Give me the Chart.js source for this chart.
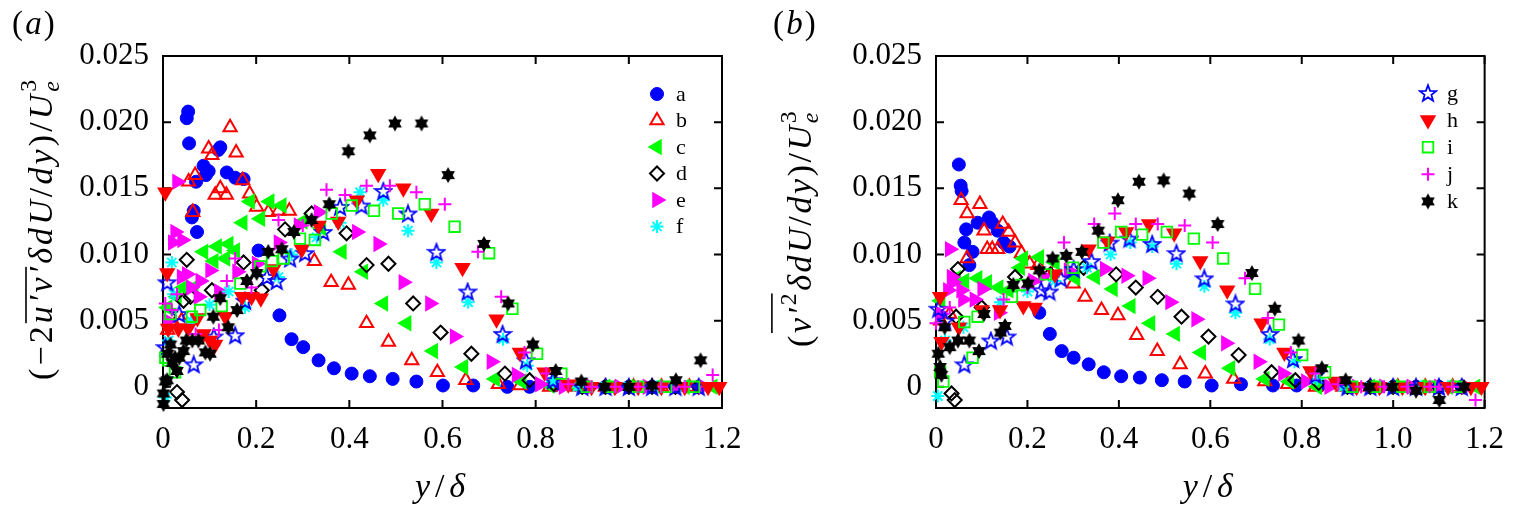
<!DOCTYPE html>
<html>
<head>
<meta charset="utf-8">
<script src="https://cdn.jsdelivr.net/npm/chart.js@4.4.1/dist/chart.umd.min.js"></script>
<style>
  html, body { margin: 0; padding: 0; background: #fff; overflow: hidden; }
  #wrap { position: relative; width: 1517px; height: 509px; }
  canvas { position: absolute; top: 0; }
  #cA { left: 0; }
  #cB { left: 760px; }
</style>
</head>
<body>
<div id="wrap">
  <canvas id="cA" width="760" height="509"></canvas>
  <canvas id="cB" width="757" height="509"></canvas>
</div>
<script>
// ---- axes ----
const xTicks = [0, 0.2, 0.4, 0.6, 0.8, 1.0, 1.2];
const xTickLabels = ['0', '0.2', '0.4', '0.6', '0.8', '1.0', '1.2'];
const yTicks = [0, 0.005, 0.010, 0.015, 0.020, 0.025];
const yTickLabels = ['0', '0.005', '0.010', '0.015', '0.020', '0.025'];
const seriesNames = ['a', 'b', 'c', 'd', 'e', 'f', 'g', 'h', 'i', 'j', 'k'];

// ---- panel (a): (-2 u'v' delta dU/dy)/Ue^3 vs y/delta ----
const ptsA_a = [[0.054,0.0208],[0.051,0.0203],[0.056,0.0184],[0.071,0.0155],[0.062,0.0128],[0.066,0.0133],[0.073,0.0117],[0.087,0.0167],[0.098,0.0163],[0.092,0.0160],[0.119,0.0179],[0.123,0.0181],[0.137,0.0162],[0.155,0.0158],[0.173,0.0157],[0.205,0.0103],[0.250,0.0054],[0.276,0.0036],[0.301,0.0030],[0.334,0.0020],[0.367,0.0014],[0.405,0.0010],[0.444,0.0008],[0.493,0.0006],[0.544,0.0004],[0.601,0.0001],[0.666,0.0001],[0.739,0],[0.787,0],[0.840,0.0001],[0.90,0],[0.95,0],[1.00,0],[1.05,0],[1.10,0],[1.15,0]];
const ptsA_b = [[0.010,0.0043],[0.025,0.0047],[0.040,0.0050],[0.055,0.0155],[0.064,0.0132],[0.069,0.0160],[0.098,0.0180],[0.105,0.0175],[0.112,0.0145],[0.123,0.0150],[0.136,0.0145],[0.144,0.0196],[0.157,0.0177],[0.171,0.0156],[0.186,0.0146],[0.201,0.0136],[0.226,0.0132],[0.248,0.0133],[0.271,0.0133],[0.325,0.0095],[0.361,0.0079],[0.398,0.0077],[0.437,0.0048],[0.484,0.0034],[0.534,0.0020],[0.589,0.0011],[0.650,0.0005],[0.720,0.0002],[0.766,0.0001],[0.83,0],[0.89,0],[0.95,0],[1.01,0],[1.07,0],[1.13,0]];
const ptsA_c = [[0.010,0.0060],[0.030,0.0068],[0.044,0.0075],[0.066,0.0075],[0.087,0.0102],[0.109,0.0095],[0.116,0.0106],[0.134,0.0097],[0.141,0.0108],[0.155,0.0103],[0.171,0.0124],[0.187,0.0140],[0.209,0.0127],[0.229,0.0140],[0.255,0.0137],[0.300,0.0125],[0.340,0.0120],[0.384,0.0102],[0.430,0.0087],[0.473,0.0063],[0.523,0.0048],[0.580,0.0027],[0.645,0.0015],[0.713,0.0006],[0.770,0.0004],[0.83,0.0001],[0.89,0],[0.95,0],[1.00,0],[1.06,0],[1.12,0],[1.18,0]];
const ptsA_d = [[0.030,-0.0004],[0.041,-0.0010],[0.044,0.0065],[0.051,0.0096],[0.059,0.0068],[0.105,0.0073],[0.173,0.0094],[0.212,0.0073],[0.262,0.0119],[0.319,0.0131],[0.394,0.0116],[0.437,0.0092],[0.484,0.0093],[0.537,0.0063],[0.596,0.0041],[0.662,0.0025],[0.734,0.0010],[0.787,0.0005],[0.839,0.0002],[0.90,0],[0.95,0],[1.00,0],[1.05,0],[1.10,0],[1.15,0]];
const ptsA_e = [[0.010,0.0050],[0.021,0.0109],[0.026,0.0117],[0.030,0.0155],[0.041,0.0111],[0.040,0.0083],[0.051,0.0085],[0.060,0.0075],[0.076,0.0068],[0.080,0.0080],[0.101,0.0088],[0.120,0.0072],[0.159,0.0087],[0.201,0.0093],[0.248,0.0109],[0.291,0.0122],[0.334,0.0132],[0.416,0.0117],[0.462,0.0108],[0.516,0.0079],[0.573,0.0063],[0.626,0.0038],[0.705,0.0019],[0.759,0.0009],[0.809,0.0002],[0.86,0],[0.92,0],[0.98,0],[1.04,0],[1.10,0],[1.16,0]];
const ptsA_f = [[0.005,-0.0008],[0.012,0.0035],[0.019,0.0094],[0.023,0.0070],[0.060,0.0050],[0.100,0.0062],[0.141,0.0072],[0.176,0.0060],[0.248,0.0083],[0.276,0.0100],[0.330,0.0113],[0.380,0.0124],[0.423,0.0147],[0.473,0.0141],[0.526,0.0118],[0.587,0.0094],[0.655,0.0064],[0.730,0.0036],[0.782,0.0016],[0.837,0.0004],[0.89,0],[0.95,0],[1.00,0],[1.06,0],[1.12,0]];
const ptsA_g = [[0.005,0.0030],[0.009,0.0079],[0.035,0.0055],[0.066,0.0017],[0.109,0.0038],[0.155,0.0039],[0.176,0.0065],[0.223,0.0083],[0.244,0.0080],[0.273,0.0097],[0.305,0.0101],[0.344,0.0117],[0.380,0.0136],[0.426,0.0137],[0.473,0.0148],[0.526,0.0131],[0.587,0.0102],[0.654,0.0072],[0.729,0.0040],[0.779,0.0020],[0.837,0.0005],[0.90,0],[0.95,0],[1.00,0],[1.05,0],[1.10,0],[1.15,0]];
const ptsA_h = [[0.005,0.0147],[0.009,0.0086],[0.011,0.0044],[0.033,0.0044],[0.054,0.0044],[0.074,0.0052],[0.087,0.0040],[0.101,0.0035],[0.112,0.0032],[0.134,0.0053],[0.170,0.0068],[0.190,0.0068],[0.210,0.0067],[0.237,0.0089],[0.298,0.0104],[0.334,0.0122],[0.376,0.0125],[0.416,0.0141],[0.462,0.0161],[0.516,0.0150],[0.576,0.0131],[0.643,0.0090],[0.716,0.0051],[0.766,0.0026],[0.819,0.0011],[0.87,0.0002],[0.92,0],[0.97,0],[1.02,0],[1.07,0],[1.12,0],[1.17,0],[1.194,0]];
const ptsA_i = [[0.005,0.0022],[0.011,0.0020],[0.016,0.0055],[0.026,0.0011],[0.062,0.0053],[0.080,0.0058],[0.126,0.0061],[0.166,0.0078],[0.209,0.0091],[0.234,0.0095],[0.259,0.0097],[0.294,0.0112],[0.326,0.0111],[0.362,0.0131],[0.405,0.0137],[0.453,0.0133],[0.505,0.0131],[0.562,0.0138],[0.626,0.0121],[0.700,0.0101],[0.750,0.0059],[0.803,0.0025],[0.855,0.0010],[0.91,0],[0.96,0],[1.02,0],[1.08,0],[1.14,0]];
const ptsA_j = [[0.005,0.0063],[0.019,0.0058],[0.030,0.0070],[0.070,0.0040],[0.120,0.0043],[0.137,0.0080],[0.155,0.0097],[0.190,0.0075],[0.248,0.0126],[0.300,0.0122],[0.351,0.0149],[0.391,0.0145],[0.437,0.0152],[0.487,0.0152],[0.544,0.0147],[0.605,0.0138],[0.676,0.0102],[0.726,0.0068],[0.776,0.0026],[0.823,0.0010],[0.87,0.0002],[0.92,0],[0.97,0],[1.02,0],[1.07,0],[1.12,0],[1.18,0.0009]];
const ptsA_k = [[0.001,-0.0013],[0.001,-0.0005],[0.005,0.0004],[0.009,0.0005],[0.010,0.0025],[0.016,0.0032],[0.020,0.0018],[0.026,0.0022],[0.030,0.0012],[0.035,0.0022],[0.044,0.0027],[0.050,0.0035],[0.063,0.0035],[0.076,0.0035],[0.091,0.0026],[0.101,0.0025],[0.108,0.0053],[0.123,0.0067],[0.140,0.0045],[0.159,0.0058],[0.180,0.0080],[0.201,0.0086],[0.226,0.0102],[0.255,0.0104],[0.281,0.0117],[0.319,0.0126],[0.357,0.0138],[0.398,0.0178],[0.444,0.0190],[0.498,0.0199],[0.555,0.0199],[0.612,0.0160],[0.689,0.0108],[0.741,0.0063],[0.794,0.0032],[0.843,0.0012],[0.898,0.0004],[0.948,0],[1.00,0],[1.05,0.0001],[1.101,0.0005],[1.154,0.0020]];

// ---- panel (b): (v'^2 delta dU/dy)/Ue^3 vs y/delta ----
const ptsB_a = [[0.050,0.0168],[0.054,0.0152],[0.056,0.0148],[0.062,0.0109],[0.066,0.0119],[0.073,0.0092],[0.080,0.0102],[0.091,0.0124],[0.116,0.0128],[0.123,0.0124],[0.135,0.0118],[0.148,0.0109],[0.161,0.0106],[0.226,0.0056],[0.249,0.0040],[0.275,0.0027],[0.301,0.0022],[0.334,0.0017],[0.367,0.0011],[0.405,0.0008],[0.446,0.0007],[0.494,0.0005],[0.544,0.0004],[0.603,0.0001],[0.667,0.0002],[0.737,0.0001],[0.789,0.0001],[0.839,0.0001],[0.90,0],[0.95,0],[1.00,0],[1.05,0],[1.10,0],[1.15,0]];
const ptsB_b = [[0.010,0.0050],[0.030,0.0055],[0.055,0.0141],[0.068,0.0131],[0.068,0.0097],[0.096,0.0138],[0.105,0.0118],[0.112,0.0104],[0.123,0.0104],[0.135,0.0104],[0.146,0.0123],[0.159,0.0117],[0.173,0.0109],[0.187,0.0101],[0.205,0.0093],[0.223,0.0092],[0.260,0.0088],[0.300,0.0078],[0.326,0.0068],[0.362,0.0058],[0.398,0.0054],[0.439,0.0039],[0.484,0.0027],[0.534,0.0017],[0.589,0.0010],[0.651,0.0006],[0.719,0.0004],[0.769,0.0002],[0.83,0],[0.89,0],[0.95,0],[1.01,0],[1.07,0],[1.13,0]];
const ptsB_c = [[0.010,0.0065],[0.044,0.0082],[0.062,0.0080],[0.091,0.0082],[0.112,0.0079],[0.137,0.0075],[0.159,0.0073],[0.184,0.0090],[0.191,0.0097],[0.226,0.0098],[0.260,0.0094],[0.305,0.0082],[0.348,0.0083],[0.387,0.0074],[0.426,0.0061],[0.469,0.0048],[0.523,0.0040],[0.580,0.0026],[0.644,0.0014],[0.719,0.0006],[0.773,0.0004],[0.834,0],[0.89,0],[0.95,0],[1.00,0],[1.06,0],[1.12,0],[1.18,0]];
const ptsB_d = [[0.034,-0.0005],[0.041,-0.0010],[0.044,0.0053],[0.048,0.0089],[0.100,0.0060],[0.173,0.0083],[0.250,0.0085],[0.323,0.0090],[0.394,0.0085],[0.437,0.0075],[0.485,0.0068],[0.537,0.0053],[0.596,0.0038],[0.662,0.0024],[0.734,0.0011],[0.786,0.0005],[0.837,0.0003],[0.90,0],[0.95,0],[1.00,0],[1.05,0],[1.10,0],[1.15,0]];
const ptsB_e = [[0.010,0.0055],[0.026,0.0073],[0.030,0.0104],[0.034,0.0083],[0.037,0.0079],[0.055,0.0073],[0.059,0.0066],[0.084,0.0066],[0.101,0.0074],[0.137,0.0056],[0.212,0.0080],[0.234,0.0084],[0.290,0.0088],[0.369,0.0089],[0.416,0.0084],[0.462,0.0082],[0.512,0.0064],[0.569,0.0051],[0.634,0.0033],[0.705,0.0019],[0.759,0.0010],[0.809,0.0004],[0.86,0],[0.92,0],[0.98,0],[1.04,0],[1.10,0],[1.16,0]];
const ptsB_f = [[0.004,-0.0007],[0.020,0.0035],[0.060,0.0045],[0.141,0.0064],[0.200,0.0072],[0.260,0.0080],[0.330,0.0090],[0.382,0.0100],[0.425,0.0109],[0.473,0.0106],[0.526,0.0093],[0.587,0.0076],[0.655,0.0056],[0.730,0.0036],[0.784,0.0019],[0.834,0.0006],[0.89,0],[0.95,0],[1.00,0],[1.06,0],[1.12,0]];
const ptsB_g = [[0.005,0.0059],[0.020,0.0050],[0.062,0.0017],[0.120,0.0035],[0.155,0.0038],[0.230,0.0073],[0.248,0.0072],[0.273,0.0082],[0.301,0.0089],[0.340,0.0095],[0.380,0.0109],[0.423,0.0112],[0.473,0.0108],[0.526,0.0101],[0.587,0.0082],[0.655,0.0063],[0.730,0.0040],[0.781,0.0021],[0.830,0.0009],[0.90,0],[0.95,0],[1.00,0],[1.05,0],[1.10,0],[1.15,0]];
const ptsB_h = [[0.009,0.0068],[0.012,0.0034],[0.050,0.0045],[0.100,0.0058],[0.140,0.0058],[0.191,0.0061],[0.216,0.0060],[0.260,0.0085],[0.334,0.0104],[0.375,0.0110],[0.416,0.0117],[0.466,0.0123],[0.521,0.0116],[0.578,0.0095],[0.637,0.0073],[0.712,0.0048],[0.762,0.0026],[0.819,0.0012],[0.873,0.0004],[0.92,0],[0.97,0],[1.02,0],[1.07,0],[1.12,0],[1.17,0],[1.193,0]];
const ptsB_i = [[0.009,0.0011],[0.016,0.0004],[0.062,0.0049],[0.080,0.0022],[0.091,0.0053],[0.166,0.0068],[0.187,0.0077],[0.240,0.0085],[0.300,0.0090],[0.366,0.0109],[0.405,0.0117],[0.451,0.0115],[0.505,0.0117],[0.564,0.0112],[0.628,0.0097],[0.698,0.0074],[0.750,0.0047],[0.801,0.0024],[0.851,0.0011],[0.91,0],[0.96,0],[1.02,0],[1.08,0],[1.14,0]];
const ptsB_j = [[0.000,0.0048],[0.030,0.0060],[0.148,0.0066],[0.200,0.0075],[0.280,0.0109],[0.346,0.0123],[0.391,0.0131],[0.437,0.0123],[0.485,0.0123],[0.544,0.0122],[0.605,0.0109],[0.676,0.0082],[0.726,0.0052],[0.776,0.0026],[0.830,0.0010],[0.88,0.0002],[0.93,0],[0.98,0],[1.03,0],[1.08,0],[1.13,0],[1.18,-0.0010]];
const ptsB_k = [[0.005,0.0025],[0.009,0.0015],[0.012,0.0009],[0.019,0.0045],[0.030,0.0030],[0.048,0.0035],[0.073,0.0035],[0.094,0.0027],[0.105,0.0055],[0.141,0.0041],[0.151,0.0046],[0.169,0.0077],[0.201,0.0078],[0.226,0.0088],[0.255,0.0097],[0.285,0.0099],[0.319,0.0102],[0.355,0.0118],[0.398,0.0141],[0.444,0.0155],[0.498,0.0156],[0.554,0.0146],[0.616,0.0123],[0.691,0.0086],[0.741,0.0059],[0.793,0.0035],[0.844,0.0014],[0.896,0.0005],[0.948,0],[0.998,0],[1.05,-0.0003],[1.101,-0.0010],[1.155,0]];

const SERIF = "'Liberation Serif', 'Times New Roman', 'DejaVu Serif', serif";

// marker images for the two star types Chart.js has no style for
function openStar(color) {
  const c = document.createElement('canvas');
  c.width = 20; c.height = 20;
  const g = c.getContext('2d');
  g.beginPath();
  for (let i = 0; i < 10; i++) {
    const r = i % 2 ? 3.6 : 8.6;
    const a = -Math.PI / 2 + i * Math.PI / 5;
    const px = 10 + r * Math.cos(a), py = 10.8 + r * Math.sin(a);
    if (i) g.lineTo(px, py); else g.moveTo(px, py);
  }
  g.closePath();
  g.strokeStyle = color; g.lineWidth = 1.8;
  g.stroke();
  return c;
}
function hexStar(color) {
  const c = document.createElement('canvas');
  c.width = 18; c.height = 18;
  const g = c.getContext('2d');
  g.fillStyle = color;
  [0, Math.PI].forEach(off => {
    g.beginPath();
    for (let i = 0; i < 3; i++) {
      const a = -Math.PI / 2 + off + i * 2 * Math.PI / 3;
      const px = 9 + 7.9 * Math.cos(a), py = 9 + 7.9 * Math.sin(a);
      if (i) g.lineTo(px, py); else g.moveTo(px, py);
    }
    g.closePath();
    g.fill();
  });
  return c;
}

const NONE = 'rgba(0,0,0,0)';
const styles = [
  { ps: 'circle',   rot: 0,   r: 6.5, fill: '#0000ff', stroke: '#0000ff', bw: 1 },
  { ps: 'triangle', rot: 0,   r: 7.6, fill: NONE,      stroke: '#ff0000', bw: 2 },
  { ps: 'triangle', rot: 270, r: 9.5, fill: '#00ff00', stroke: '#00ff00', bw: 0 },
  { ps: 'rectRot',  rot: 0,   r: 7,   fill: NONE,      stroke: '#000000', bw: 2 },
  { ps: 'triangle', rot: 90,  r: 9.5, fill: '#ff00ff', stroke: '#ff00ff', bw: 0 },
  { ps: 'star',     rot: 0,   r: 6.5, fill: NONE,      stroke: '#00ffff', bw: 2 },
  { ps: openStar('#0000ff'), rot: 0, r: 8, fill: NONE, stroke: '#0000ff', bw: 0 },
  { ps: 'triangle', rot: 180, r: 9.5, fill: '#ff0000', stroke: '#ff0000', bw: 0 },
  { ps: 'rect',     rot: 0,   r: 7.5, fill: NONE,      stroke: '#00ff00', bw: 1.8 },
  { ps: 'cross',    rot: 0,   r: 6.5, fill: NONE,      stroke: '#ff00ff', bw: 2 },
  { ps: hexStar('#000000'), rot: 0, r: 8, fill: NONE, stroke: '#000000', bw: 0 }
];

function buildDatasets(series) {
  return series.map((pts, i) => {
    const s = styles[i];
    return {
      label: seriesNames[i],
      data: pts.map(p => ({ x: p[0], y: p[1] })),
      pointStyle: s.ps,
      pointRotation: s.rot,
      pointRadius: s.r,
      pointHoverRadius: s.r,
      pointBorderWidth: s.bw,
      pointBackgroundColor: s.fill,
      pointBorderColor: s.stroke,
      showLine: false,
      clip: false,
      order: series.length - i   // later series on top, as in the figure
    };
  });
}

// text made of upright / italic / sub / superscript pieces, centred on u = 0
function drawRuns(ctx, runs, size, target, olY) {
  const fontOf = r => (r.it ? 'italic ' : '') + (size * (r.sc || 1)).toFixed(1) + 'px ' + SERIF;
  let natural = 0, nch = 0;
  runs.forEach(r => {
    if (r.back) return;
    ctx.font = fontOf(r);
    natural += ctx.measureText(r.t).width;
    nch += r.t.length;
  });
  const gap = (target - natural) / nch;
  let u = -target / 2, prevStart = u, ol0 = null, ol1 = null;
  runs.forEach(r => {
    ctx.font = fontOf(r);
    const start = r.back ? prevStart : u;
    let cu = start;
    for (const ch of r.t) {
      ctx.fillText(ch, cu, (r.dy || 0) * size);
      cu += ctx.measureText(ch).width + (r.back ? 0 : gap);
    }
    if (r.ol) { if (ol0 === null) ol0 = start; ol1 = cu - gap; }
    if (!r.back) { prevStart = start; u = cu; }
  });
  if (ol0 !== null) ctx.fillRect(ol0, olY * size - 0.8, ol1 - ol0, 1.6);
}

const titleA = [
  { t: '(−2' }, { t: 'u′v′', it: true, ol: true }, { t: 'δdU', it: true }, { t: '/' },
  { t: 'dy', it: true }, { t: ')/' }, { t: 'U', it: true },
  { t: 'e', it: true, sc: 0.7, dy: 0.22 }, { t: '3', sc: 0.7, dy: -0.45, back: true }
];
const titleB = [
  { t: '(' }, { t: 'v′', it: true, ol: true }, { t: '2', sc: 0.7, dy: -0.45, ol: true },
  { t: 'δdU', it: true }, { t: '/' }, { t: 'dy', it: true }, { t: ')/' }, { t: 'U', it: true },
  { t: 'e', it: true, sc: 0.7, dy: 0.22 }, { t: '3', sc: 0.7, dy: -0.45, back: true }
];
const xTitle = [{ t: 'y', it: true }, { t: '/' }, { t: 'δ', it: true }];

function makeDeco(cfg) {
  return {
    id: 'deco' + cfg.tag,
    beforeDatasetsDraw(chart) {
      const { ctx, chartArea: a, scales: { x, y } } = chart;
      ctx.save();
      ctx.strokeStyle = '#000';
      ctx.lineWidth = 2;
      ctx.strokeRect(a.left, a.top, a.right - a.left, a.bottom - a.top);
      ctx.beginPath();
      x.ticks.forEach(t => {
        const px = x.getPixelForValue(t.value);
        ctx.moveTo(px, a.bottom); ctx.lineTo(px, a.bottom - 8);
        ctx.moveTo(px, a.top); ctx.lineTo(px, a.top + 8);
      });
      y.ticks.forEach(t => {
        const py = y.getPixelForValue(t.value);
        ctx.moveTo(a.left, py); ctx.lineTo(a.left + 8, py);
        ctx.moveTo(a.right, py); ctx.lineTo(a.right - 8, py);
      });
      ctx.stroke();
      ctx.restore();
    },
    afterDraw(chart) {
      const { ctx, chartArea: a } = chart;
      ctx.save();
      ctx.fillStyle = '#000';
      ctx.textAlign = 'left';
      ctx.textBaseline = 'alphabetic';

      // legend
      cfg.legend.forEach((idx, n) => {
        const s = styles[idx];
        const ly = cfg.legY0 + n * cfg.legDy;
        ctx.save();
        ctx.fillStyle = s.fill;
        ctx.strokeStyle = s.stroke;
        ctx.lineWidth = s.bw;
        Chart.helpers.drawPoint(ctx, { pointStyle: s.ps, rotation: s.rot, radius: s.r, borderWidth: s.bw }, cfg.legX, ly);
        ctx.restore();
        ctx.fillStyle = '#000';
        ctx.font = '22px ' + SERIF;
        ctx.fillText(seriesNames[idx], cfg.legLabelX, ly + 6.5);
      });

      // y title, rotated
      ctx.save();
      ctx.translate(cfg.yTitleX, cfg.yTitleCy);
      ctx.rotate(-Math.PI / 2);
      drawRuns(ctx, cfg.yTitle, 34, cfg.yTitleLen, cfg.olY);
      ctx.restore();

      // x title
      ctx.save();
      ctx.translate((a.left + a.right) / 2, 497);
      drawRuns(ctx, xTitle, 34, 55, 0);
      ctx.restore();

      // panel label
      ctx.save();
      ctx.translate(cfg.labelX + 22.5, 34);
      drawRuns(ctx, [{ t: '(' }, { t: cfg.tag, it: true }, { t: ')' }], 33, 45, 0);
      ctx.restore();
      ctx.restore();
    }
  };
}

function makeChart(id, series, cfg) {
  return new Chart(document.getElementById(id), {
    type: 'scatter',
    data: { datasets: buildDatasets(series) },
    options: {
      responsive: false,
      animation: false,
      events: [],
      layout: { padding: { left: 0, top: 56, right: cfg.padR, bottom: 0 } },
      plugins: { legend: { display: false }, tooltip: { enabled: false } },
      scales: {
        x: {
          type: 'linear', min: 0, max: 1.2,
          afterBuildTicks: s => { s.ticks = xTicks.map(v => ({ value: v })); },
          afterFit: s => { s.height = 101; },
          grid: { display: false, drawTicks: false },
          border: { display: false },
          ticks: {
            padding: 13, color: '#000', maxRotation: 0, autoSkip: false,
            font: { family: SERIF, size: 31 },
            callback: (v, i) => xTickLabels[i]
          }
        },
        y: {
          type: 'linear', min: -0.0016, max: 0.025,
          afterBuildTicks: s => { s.ticks = yTicks.map(v => ({ value: v })); },
          afterFit: s => { s.width = cfg.yW; },
          grid: { display: false, drawTicks: false },
          border: { display: false },
          ticks: {
            padding: 14, color: '#000', autoSkip: false,
            font: { family: SERIF, size: 31 },
            callback: (v, i) => yTickLabels[i]
          }
        }
      }
    },
    plugins: [makeDeco(cfg)]
  });
}

const seriesA = [ptsA_a, ptsA_b, ptsA_c, ptsA_d, ptsA_e, ptsA_f, ptsA_g, ptsA_h, ptsA_i, ptsA_j, ptsA_k];
const seriesB = [ptsB_a, ptsB_b, ptsB_c, ptsB_d, ptsB_e, ptsB_f, ptsB_g, ptsB_h, ptsB_i, ptsB_j, ptsB_k];

makeChart('cA', seriesA, {
  tag: 'a', yW: 163, padR: 38,
  legend: [0, 1, 2, 3, 4, 5], legX: 657, legLabelX: 676, legY0: 94, legDy: 26.5,
  yTitle: titleA, yTitleX: 51.5, yTitleCy: 229, yTitleLen: 302, olY: -0.75,
  labelX: 12
});
makeChart('cB', seriesB, {
  tag: 'b', yW: 176, padR: 21,
  legend: [6, 7, 8, 9, 10], legX: 668, legLabelX: 687, legY0: 93, legDy: 27.1,
  yTitle: titleB, yTitleX: 51, yTitleCy: 228.5, yTitleLen: 237, olY: -1.15,
  labelX: 13
});
</script>
</body>
</html>
